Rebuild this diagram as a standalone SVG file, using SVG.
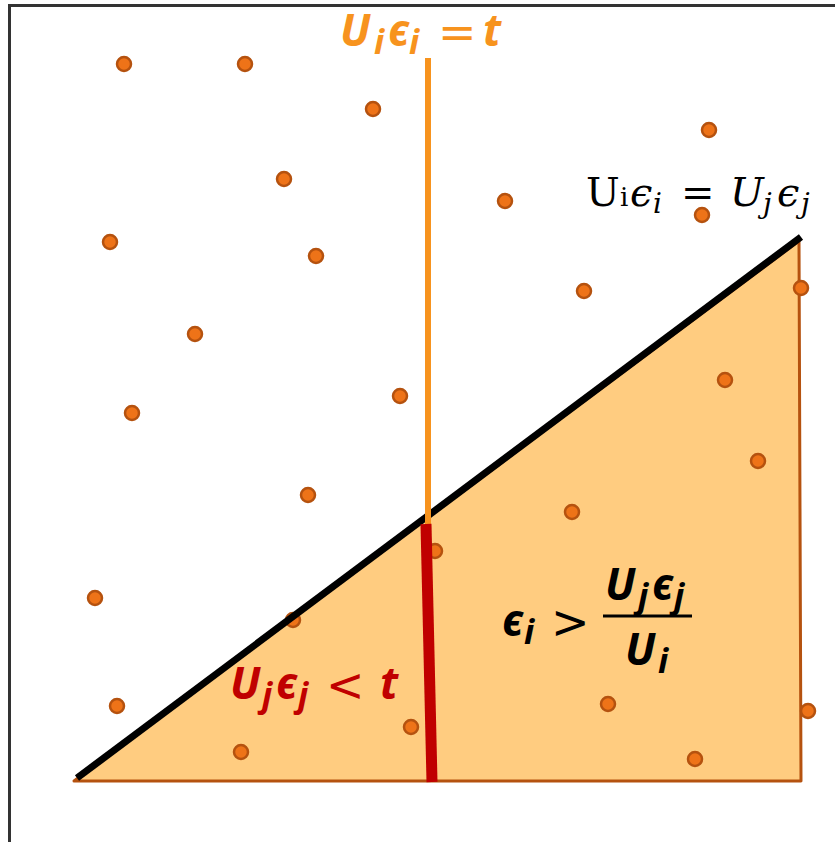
<svg xmlns="http://www.w3.org/2000/svg" width="835" height="842" viewBox="0 0 835 842">
<style>
.dot{fill:#EE7318;stroke:#B5520F;stroke-width:2.5}
.m{font-family:"Noto Sans","DejaVu Sans",sans-serif;font-style:italic;font-weight:bold;font-size:44px}
.s{font-size:34px}
.op{font-family:"DejaVu Sans",sans-serif;font-style:normal;font-weight:normal;font-size:46px}
</style>
<rect x="0" y="0" width="835" height="842" fill="#fff"/>
<g id="frame"><path d="M9.5 842 V5.5 H835" fill="none" stroke="#333" stroke-width="3"/></g>
<g id="region"><polygon points="74,781 799,241 801,781" fill="#FFCC80" stroke="#B5520F" stroke-width="3" stroke-linejoin="round"/></g>
<g id="dots">
<circle class="dot" cx="124" cy="64" r="7"/><circle class="dot" cx="245" cy="64" r="7"/><circle class="dot" cx="373" cy="109" r="7"/><circle class="dot" cx="709" cy="130" r="7"/><circle class="dot" cx="284" cy="179" r="7"/><circle class="dot" cx="505" cy="201" r="7"/><circle class="dot" cx="702" cy="215" r="7"/><circle class="dot" cx="110" cy="242" r="7"/><circle class="dot" cx="316" cy="256" r="7"/><circle class="dot" cx="584" cy="291" r="7"/><circle class="dot" cx="801" cy="288" r="7"/><circle class="dot" cx="195" cy="334" r="7"/><circle class="dot" cx="725" cy="380" r="7"/><circle class="dot" cx="132" cy="413" r="7"/><circle class="dot" cx="400" cy="396" r="7"/><circle class="dot" cx="758" cy="461" r="7"/><circle class="dot" cx="308" cy="495" r="7"/><circle class="dot" cx="572" cy="512" r="7"/><circle class="dot" cx="435" cy="551" r="7"/><circle class="dot" cx="95" cy="598" r="7"/><circle class="dot" cx="293" cy="620" r="7"/><circle class="dot" cx="117" cy="706" r="7"/><circle class="dot" cx="608" cy="704" r="7"/><circle class="dot" cx="411" cy="727" r="7"/><circle class="dot" cx="808" cy="711" r="7"/><circle class="dot" cx="241" cy="752" r="7"/><circle class="dot" cx="695" cy="759" r="7"/>
</g>
<g id="connectors">
<line x1="77" y1="778" x2="801" y2="237" stroke="#000" stroke-width="7"/>
<line x1="428" y1="58" x2="428" y2="524" stroke="#F7931E" stroke-width="6"/>
<line x1="426" y1="524" x2="432" y2="782" stroke="#C00000" stroke-width="11"/>
</g>
<g id="label-top" fill="#F7931E"><text class="m" y="46"><tspan x="340">U</tspan><tspan class="s" x="374" y="54">i</tspan><tspan x="388" y="46">ϵ</tspan><tspan class="s" x="409" y="54">i</tspan><tspan class="op" x="438" y="48">=</tspan><tspan x="483" y="46">t</tspan></text></g>
<g id="label-line"><text y="206" font-size="40" font-family="'DejaVu Serif',serif" fill="#000"><tspan x="586">U</tspan><tspan x="620" font-size="26">i</tspan><tspan x="630" font-style="italic">ϵ</tspan><tspan x="653" y="213" font-size="28" font-style="italic">i</tspan><tspan x="681" y="206">=</tspan><tspan x="730" font-style="italic">U</tspan><tspan x="763" y="213" font-size="28" font-style="italic">j</tspan><tspan x="777" y="206" font-style="italic">ϵ</tspan><tspan x="801" y="213" font-size="28" font-style="italic">j</tspan></text></g>
<g id="label-frac" fill="#000"><text class="m" y="636"><tspan x="502">ϵ</tspan><tspan class="s" x="524" y="644">i</tspan><tspan class="op" x="551" y="638">&gt;</tspan></text>
<text class="m" y="600"><tspan x="605">U</tspan><tspan class="s" x="638" y="608">j</tspan><tspan x="652" y="600">ϵ</tspan><tspan class="s" x="674" y="608">j</tspan></text>
<line x1="603" y1="616" x2="692" y2="616" stroke="#000" stroke-width="3"/>
<text class="m" y="665"><tspan x="625">U</tspan><tspan class="s" x="658" y="673">i</tspan></text></g>
<g id="label-red" fill="#C00000"><text class="m" y="699"><tspan x="230">U</tspan><tspan class="s" x="262" y="707">j</tspan><tspan x="276" y="699">ϵ</tspan><tspan class="s" x="298" y="707">j</tspan><tspan class="op" x="326" y="701">&lt;</tspan><tspan x="380" y="699">t</tspan></text></g>
</svg>
